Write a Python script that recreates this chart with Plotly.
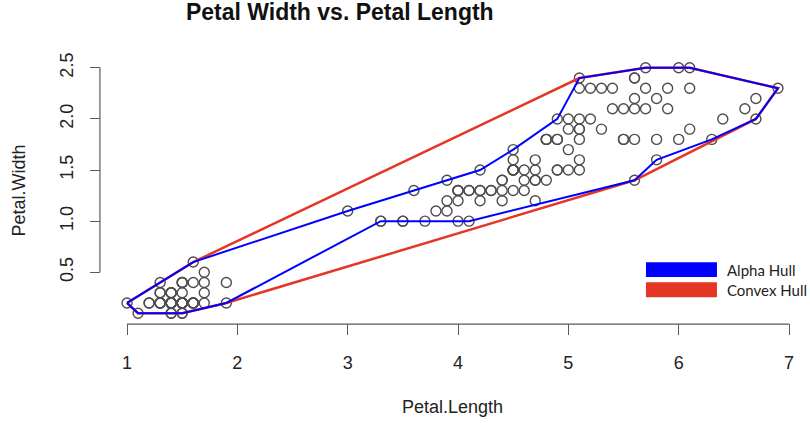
import plotly.graph_objects as go

petal_length = [
    1.4,1.4,1.3,1.5,1.4,1.7,1.4,1.5,1.4,1.5,1.5,1.6,1.4,1.1,1.2,1.5,1.3,1.4,1.7,1.5,
    1.7,1.5,1.0,1.7,1.9,1.6,1.6,1.5,1.4,1.6,1.6,1.5,1.5,1.4,1.5,1.2,1.3,1.4,1.3,1.5,
    1.3,1.3,1.3,1.6,1.9,1.4,1.6,1.4,1.5,1.4,
    4.7,4.5,4.9,4.0,4.6,4.5,4.7,3.3,4.6,3.9,3.5,4.2,4.0,4.7,3.6,4.4,4.5,4.1,4.5,3.9,
    4.8,4.0,4.9,4.7,4.3,4.4,4.8,5.0,4.5,3.5,3.8,3.7,3.9,5.1,4.5,4.5,4.7,4.4,4.1,4.0,
    4.4,4.6,4.0,3.3,4.2,4.2,4.2,4.3,3.0,4.1,
    6.0,5.1,5.9,5.6,5.8,6.6,4.5,6.3,5.8,6.1,5.1,5.3,5.5,5.0,5.1,5.3,5.5,6.7,6.9,5.0,
    5.7,4.9,6.7,4.9,5.7,6.0,4.8,4.9,5.6,5.8,6.1,6.4,5.6,5.1,5.6,6.1,5.6,5.5,4.8,5.4,
    5.6,5.1,5.1,5.9,5.7,5.2,5.0,5.2,5.4,5.1,
]
petal_width = [
    0.2,0.2,0.2,0.2,0.2,0.4,0.3,0.2,0.2,0.1,0.2,0.2,0.1,0.1,0.2,0.4,0.4,0.3,0.3,0.3,
    0.2,0.4,0.2,0.5,0.2,0.2,0.4,0.2,0.2,0.2,0.2,0.4,0.1,0.2,0.2,0.2,0.2,0.1,0.2,0.2,
    0.3,0.3,0.2,0.6,0.4,0.3,0.2,0.2,0.2,0.2,
    1.4,1.5,1.5,1.3,1.5,1.3,1.6,1.0,1.3,1.4,1.0,1.5,1.0,1.4,1.3,1.4,1.5,1.0,1.5,1.1,
    1.8,1.3,1.5,1.2,1.3,1.4,1.4,1.7,1.5,1.0,1.1,1.0,1.2,1.6,1.5,1.6,1.5,1.3,1.3,1.3,
    1.2,1.4,1.2,1.0,1.3,1.2,1.3,1.3,1.1,1.3,
    2.5,1.9,2.1,1.8,2.2,2.1,1.7,1.8,1.8,2.5,2.0,1.9,2.1,2.0,2.4,2.3,1.8,2.2,2.3,1.5,
    2.3,2.0,2.0,1.8,2.1,1.8,1.8,1.8,2.1,1.6,1.9,2.0,2.2,1.5,1.4,2.3,2.4,1.8,1.8,2.1,
    2.4,2.3,1.9,2.3,2.5,2.3,1.9,2.0,2.3,1.8,
]

# Alpha hull vertices, in drawing order
alpha_x = [1.0, 1.6, 3.0, 3.6, 3.9, 4.2, 4.5, 4.9, 5.1, 5.7, 6.0, 6.1, 6.9, 6.7, 6.3, 5.8, 5.6, 4.1, 4.0, 3.5, 3.3, 1.9, 1.5, 1.1, 1.0]
alpha_y = [0.2, 0.6, 1.1, 1.3, 1.4, 1.5, 1.7, 2.0, 2.4, 2.5, 2.5, 2.5, 2.3, 2.0, 1.8, 1.6, 1.4, 1.0, 1.0, 1.0, 1.0, 0.2, 0.1, 0.1, 0.2]

x_ticks = [1, 2, 3, 4, 5, 6, 7]
y_ticks = [0.5, 1.0, 1.5, 2.0, 2.5]
y_tick_text = ["0.5", "1.0", "1.5", "2.0", "2.5"]
legend_labels = ["Alpha Hull", "Convex Hull"]
legend_colors = ["#0000FF", "#E53524"]


def convex_hull(xs, ys):
    pts = sorted(set(zip(xs, ys)))

    def cross(o, a, b):
        return (a[0] - o[0]) * (b[1] - o[1]) - (a[1] - o[1]) * (b[0] - o[0])

    lower = []
    for p in pts:
        while len(lower) >= 2 and cross(lower[-2], lower[-1], p) <= 0:
            lower.pop()
        lower.append(p)
    upper = []
    for p in reversed(pts):
        while len(upper) >= 2 and cross(upper[-2], upper[-1], p) <= 0:
            upper.pop()
        upper.append(p)
    hull = lower[:-1] + upper[:-1]
    hull.append(hull[0])
    return [p[0] for p in hull], [p[1] for p in hull]


hx, hy = convex_hull(petal_length, petal_width)

fig = go.Figure()
fig.add_trace(go.Scatter(
    x=petal_length, y=petal_width, mode="markers",
    marker=dict(symbol="circle-open", size=10, color="#4d4d4d", line=dict(width=1.4, color="#4d4d4d")),
    showlegend=False, hoverinfo="x+y",
))
fig.add_trace(go.Scatter(
    x=hx, y=hy, mode="lines", line=dict(color=legend_colors[1], width=2.5),
    name=legend_labels[1], showlegend=False,
))
fig.add_trace(go.Scatter(
    x=alpha_x, y=alpha_y, mode="lines", line=dict(color=legend_colors[0], width=2),
    name=legend_labels[0], showlegend=False,
))

axis_color = "#5a5a5a"
font_family = "Liberation Sans, Arial, sans-serif"

shapes = [
    # x axis line from first to last tick
    dict(type="line", xref="x", yref="paper", x0=x_ticks[0], x1=x_ticks[-1], y0=-0.004, y1=-0.004,
         line=dict(color=axis_color, width=1.2)),
    # y axis line
    dict(type="line", xref="paper", yref="y", x0=-0.0015, x1=-0.0015, y0=y_ticks[0], y1=y_ticks[-1],
         line=dict(color=axis_color, width=1.2)),
]
annotations = []
# manual legend
leg_rows = [(0.2295, 0.1739), (0.1539, 0.0972)]
for (top, bot), lab, col in zip(leg_rows, legend_labels, legend_colors):
    shapes.append(dict(type="rect", xref="paper", yref="paper", x0=0.7752, x1=0.8762, y0=bot, y1=top,
                       fillcolor=col, line=dict(width=0)))
    annotations.append(dict(xref="paper", yref="paper", x=0.888, y=(top + bot) / 2, text=lab,
                            showarrow=False, xanchor="left", yanchor="middle",
                            font=dict(family="Lato, sans-serif", size=15, color="#222222")))

annotations.append(dict(xref="paper", yref="paper", x=0.5, y=-0.317, text="Petal.Length", showarrow=False,
                        xanchor="center", yanchor="middle", font=dict(family=font_family, size=18, color="#222222")))
annotations.append(dict(xref="paper", yref="paper", x=-0.118, y=0.5, text="Petal.Width", showarrow=False,
                        textangle=-90, xanchor="center", yanchor="middle",
                        font=dict(family=font_family, size=18, color="#222222")))

fig.update_layout(
    width=810, height=423,
    margin=dict(l=101, r=6, t=58, b=100),
    paper_bgcolor="white", plot_bgcolor="white",
    title=dict(text="<b>Petal Width vs. Petal Length</b>", x=0.4195, xref="container", xanchor="center",
               y=0.972, yref="container", yanchor="middle",
               font=dict(family=font_family, size=23, color="#111111")),
    shapes=shapes, annotations=annotations,
    showlegend=False,
)
fig.update_xaxes(range=[0.764, 7.136], showgrid=False, zeroline=False, showline=False,
                 tickmode="array", tickvals=x_ticks, ticktext=[str(t) for t in x_ticks],
                 ticks="outside", ticklen=11, tickwidth=1.2, tickcolor=axis_color,
                 ticklabelstandoff=12,
                 tickfont=dict(family=font_family, size=18, color="#222222"))
fig.update_yaxes(range=[0.004, 2.596], showgrid=False, zeroline=False, showline=False,
                 tickmode="array", tickvals=y_ticks, ticktext=y_tick_text, tickangle=-90,
                 ticks="outside", ticklen=10, tickwidth=1.2, tickcolor=axis_color,
                 ticklabelstandoff=10,
                 tickfont=dict(family=font_family, size=18, color="#222222"))

fig.write_html("out.html")
